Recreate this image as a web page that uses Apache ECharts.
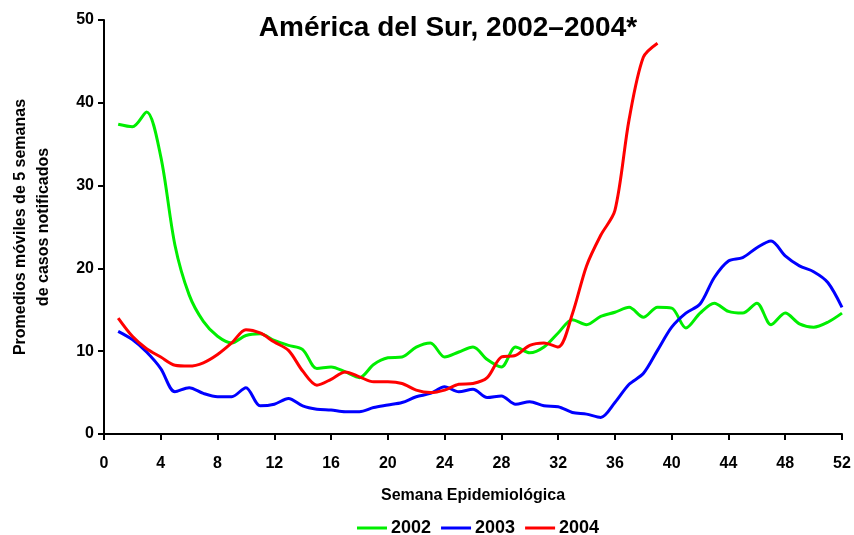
<!DOCTYPE html>
<html>
<head>
<meta charset="utf-8">
<script src="https://cdn.jsdelivr.net/npm/echarts@6/dist/echarts.min.js"></script>
<style>
  html, body { margin: 0; padding: 0; background: #fff; }
  #main { width: 854px; height: 535px; }
</style>
</head>
<body>
<div id="main"></div>
<script>
// semanas epidemiologicas
var weeks = [];
for (var w = 1; w <= 52; w++) weeks.push(w);

// promedios moviles
var y2002 = [37.4, 37.1, 38.9, 33.5, 22.8, 16.8, 13.6, 11.8, 11.0, 11.9,
             12.1, 11.3, 10.7, 10.2, 7.9, 8.1, 7.5, 6.8, 8.4, 9.2,
             9.3, 10.5, 11.0, 9.3, 9.9, 10.5, 9.0, 8.1, 10.5, 9.8,
             10.5, 12.2, 13.8, 13.2, 14.2, 14.7, 15.3, 14.1, 15.3, 15.2,
             12.8, 14.6, 15.8, 14.8, 14.6, 15.8, 13.2, 14.6, 13.3, 12.9,
             13.5, 14.6];
var y2003 = [12.4, 11.4, 9.9, 7.9, 5.1, 5.6, 4.9, 4.5, 4.5, 5.6,
             3.4, 3.6, 4.3, 3.4, 3.0, 2.9, 2.7, 2.7, 3.2, 3.5,
             3.8, 4.5, 4.9, 5.7, 5.1, 5.4, 4.4, 4.6, 3.6, 3.9,
             3.4, 3.3, 2.6, 2.4, 2.0, 3.8, 6.0, 7.3, 10.1, 12.9,
             14.6, 15.7, 18.9, 20.9, 21.3, 22.5, 23.3, 21.5, 20.3, 19.6,
             18.3, 15.3];
var y2004 = [14.0, 11.8, 10.3, 9.3, 8.3, 8.2, 8.6, 9.6, 11.0, 12.6,
             12.2, 11.1, 10.1, 7.6, 5.9, 6.6, 7.5, 6.9, 6.3, 6.3,
             6.1, 5.3, 5.0, 5.3, 6.0, 6.1, 6.8, 9.3, 9.5, 10.7,
             11.0, 10.5, 14.5, 20.3, 24.0, 27.0, 38.0, 45.5, 47.2];

function pares(vals) {
    return vals.map(function (v, i) { return [weeks[i], v]; });
}

var myChart = echarts.init(document.getElementById('main'));
var fuente = 'Liberation Sans, Arial, sans-serif';

var option = {
    animation: false,
    backgroundColor: '#fff',
    title: {
        text: 'América del Sur, 2002\u20132004*',
        left: 443,
        top: 9,
        textAlign: 'center',
        textStyle: {
            fontFamily: fuente,
            fontSize: 28,
            fontWeight: 'bold',
            color: '#000'
        }
    },
    grid: {
        left: 104,
        right: 12,
        top: 20,
        bottom: 101,
        outerBoundsMode: 'none'
    },
    legend: {
        top: 514,
        left: 352,
        itemWidth: 30,
        itemHeight: 3,
        itemGap: 10,
        icon: 'rect',
        textStyle: { fontFamily: fuente, fontSize: 18, fontWeight: 'bold', color: '#000', padding: [0, 0, 0, -1] },
        data: ['2002', '2003', '2004']
    },
    xAxis: {
        type: 'value',
        min: 0,
        max: 52,
        interval: 4,
        name: 'Semana Epidemiológica',
        nameLocation: 'middle',
        nameGap: 54,
        nameTextStyle: { fontFamily: fuente, fontSize: 16, fontWeight: 'bold', color: '#000' },
        axisLine: { lineStyle: { color: '#000', width: 2 } },
        axisTick: { length: 6, lineStyle: { color: '#000', width: 2 } },
        axisLabel: { fontFamily: fuente, fontSize: 16, fontWeight: 'bold', color: '#000', margin: 22 },
        splitLine: { show: false }
    },
    yAxis: {
        type: 'value',
        min: 0,
        max: 50,
        interval: 10,
        name: 'Promedios móviles de 5 semanas\nde casos notificados',
        nameLocation: 'middle',
        nameGap: 49,
        nameTextStyle: { fontFamily: fuente, fontSize: 16, fontWeight: 'bold', color: '#000', lineHeight: 23 },
        axisLine: { show: true, lineStyle: { color: '#000', width: 2 } },
        axisTick: { show: true, length: 6, lineStyle: { color: '#000', width: 2 } },
        axisLabel: { fontFamily: fuente, fontSize: 16, fontWeight: 'bold', color: '#000', margin: 10 },
        splitLine: { show: false }
    },
    series: [
        {
            name: '2002',
            type: 'line',
            smooth: 0.3,
            symbol: 'none',
            color: '#00ee00',
            lineStyle: { width: 3, color: '#00ee00' },
            data: pares(y2002)
        },
        {
            name: '2003',
            type: 'line',
            smooth: 0.3,
            symbol: 'none',
            color: '#0000ff',
            lineStyle: { width: 3, color: '#0000ff' },
            data: pares(y2003)
        },
        {
            name: '2004',
            type: 'line',
            smooth: 0.3,
            symbol: 'none',
            color: '#ff0000',
            lineStyle: { width: 3, color: '#ff0000' },
            data: pares(y2004)
        }
    ]
};
myChart.setOption(option);
</script>
</body>
</html>
